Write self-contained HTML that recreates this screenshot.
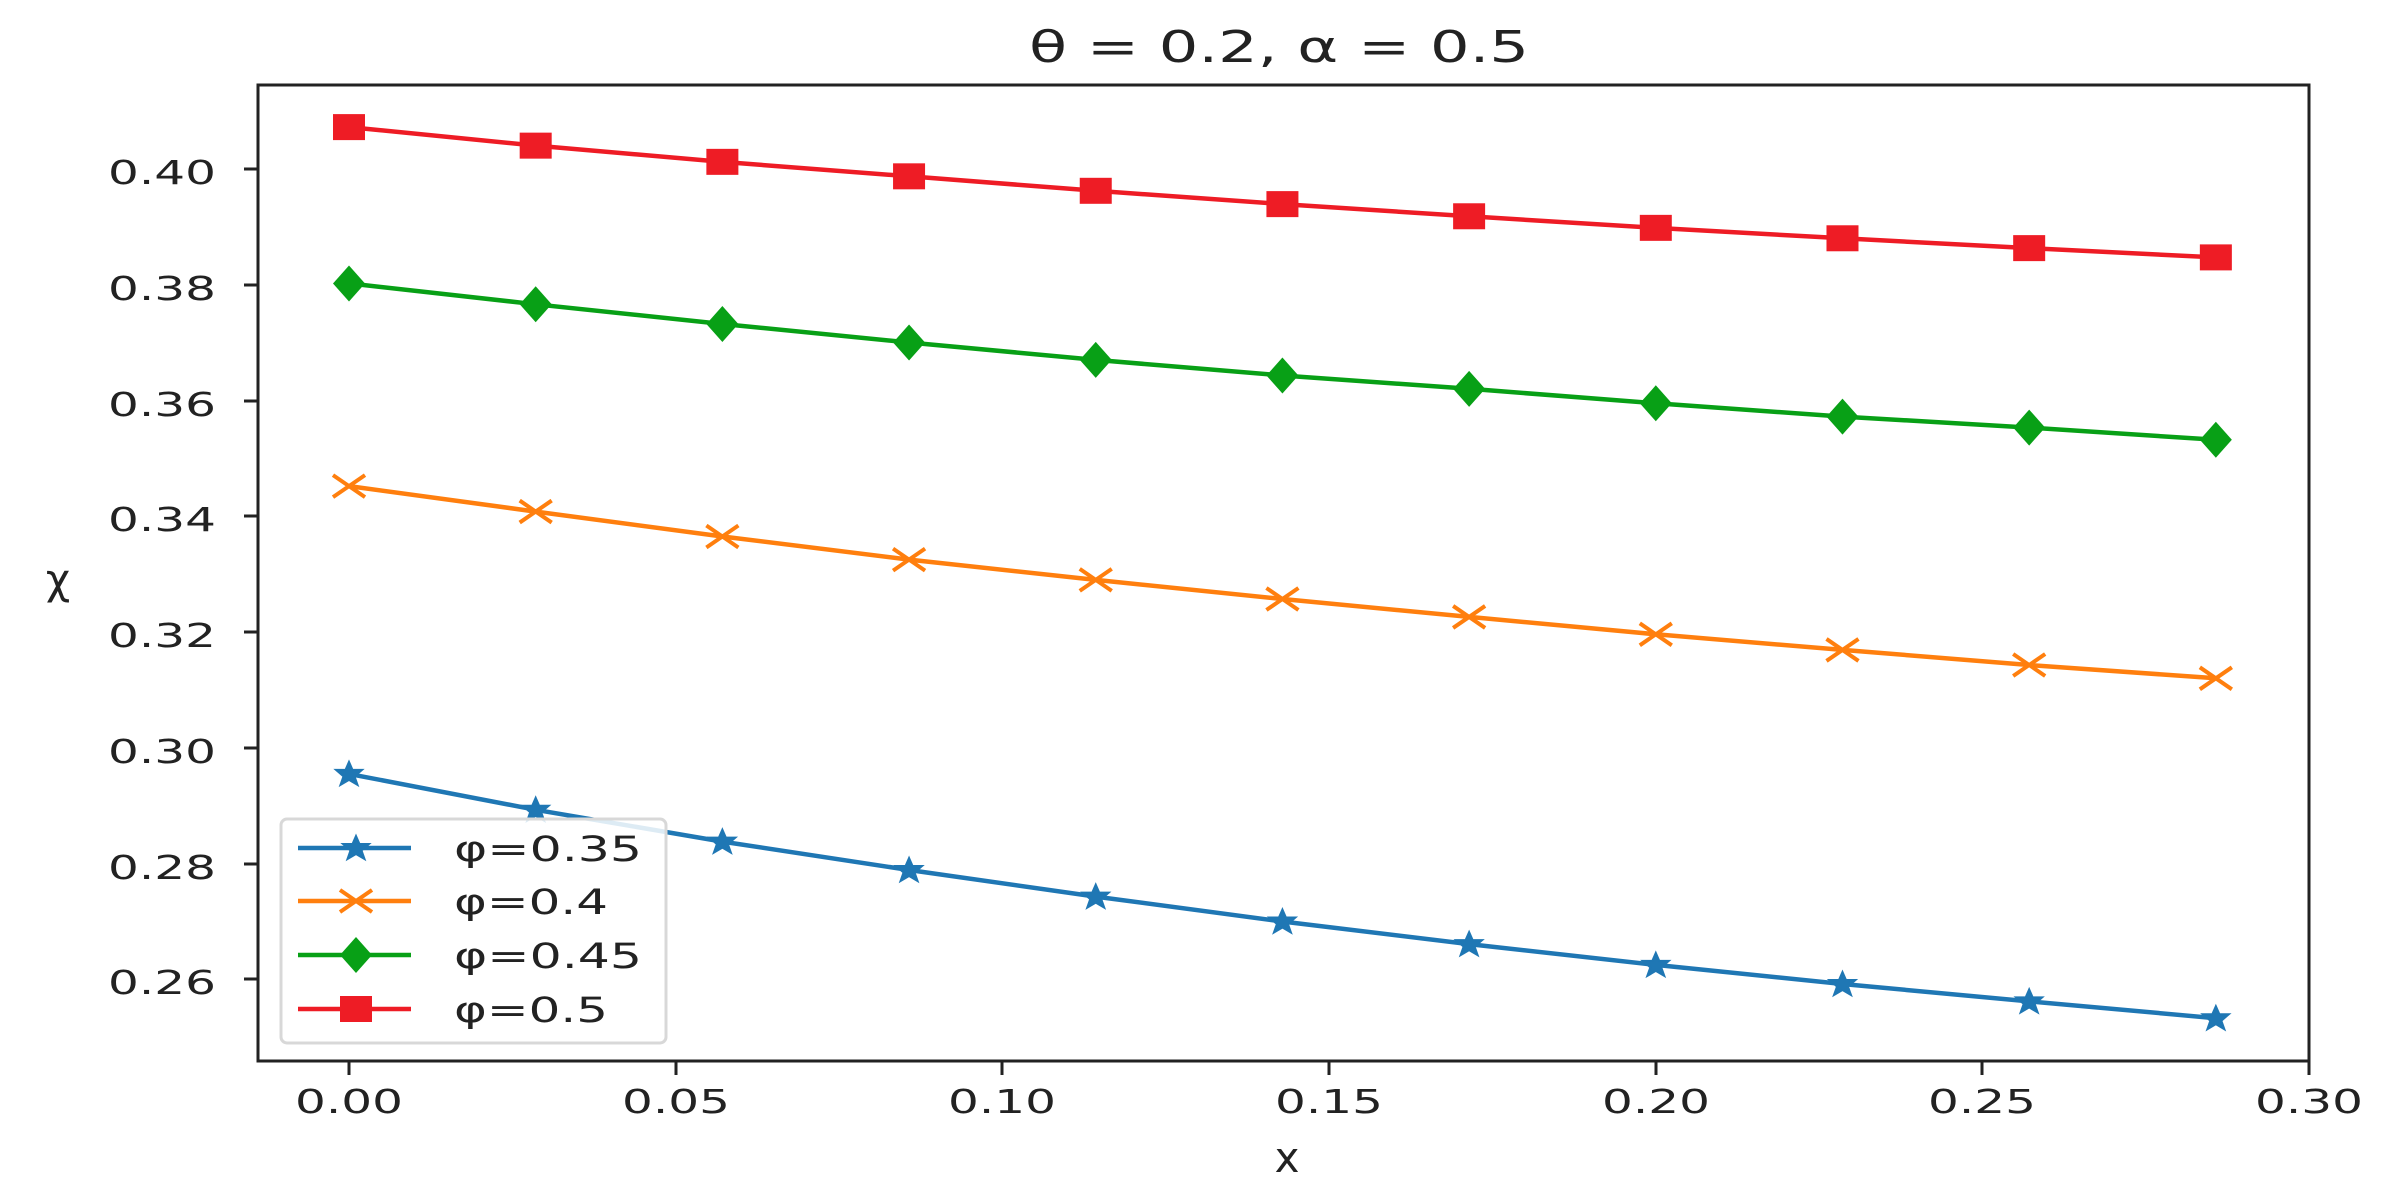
<!DOCTYPE html>
<html><head><meta charset="utf-8"><style>html,body{margin:0;padding:0;background:#fff;}svg{display:block}</style></head>
<body>
<svg width="2383" height="1187" viewBox="0 0 2383 1187" xmlns="http://www.w3.org/2000/svg" font-family="DejaVu Sans, Liberation Sans, sans-serif" fill="#222">
<defs>
<g id="sq"><rect x="-16" y="-13" width="32" height="26" fill="#ee1c25"/></g>
<g id="di"><polygon points="0,-18 16,0 0,18 -16,0" fill="#08a016"/></g>
<g id="xx"><path d="M-16,-11 L16,11 M-16,11 L16,-11" stroke="#ff7f0e" stroke-width="4" fill="none"/></g>
<g id="st"><polygon points="0,-12 3.5,-4 13,-4 5.5,2.5 8.5,11 0,6 -8.5,11 -5.5,2.5 -13,-4 -3.5,-4" fill="#1f77b4" stroke="#1f77b4" stroke-width="2"/></g>
</defs>
<text x="1279" y="62" font-size="44" text-anchor="middle" textLength="500" lengthAdjust="spacingAndGlyphs">θ = 0.2, α = 0.5</text>
<rect x="258" y="85" width="2051" height="976" fill="none" stroke="#222" stroke-width="3"/>
<g id="plot"></g>
<g stroke="#222" stroke-width="3">
<line x1="258" y1="169" x2="244" y2="169"/><line x1="258" y1="285" x2="244" y2="285"/><line x1="258" y1="401" x2="244" y2="401"/><line x1="258" y1="516" x2="244" y2="516"/><line x1="258" y1="632" x2="244" y2="632"/><line x1="258" y1="748" x2="244" y2="748"/><line x1="258" y1="864" x2="244" y2="864"/><line x1="258" y1="979" x2="244" y2="979"/>
<line x1="349" y1="1061" x2="349" y2="1075"/><line x1="676" y1="1061" x2="676" y2="1075"/><line x1="1002" y1="1061" x2="1002" y2="1075"/><line x1="1329" y1="1061" x2="1329" y2="1075"/><line x1="1656" y1="1061" x2="1656" y2="1075"/><line x1="1982" y1="1061" x2="1982" y2="1075"/><line x1="2309" y1="1061" x2="2309" y2="1075"/>
</g>
<g font-size="33" text-anchor="end">
<text x="216" y="184" textLength="108" lengthAdjust="spacingAndGlyphs">0.40</text>
<text x="216" y="300" textLength="108" lengthAdjust="spacingAndGlyphs">0.38</text>
<text x="216" y="416" textLength="108" lengthAdjust="spacingAndGlyphs">0.36</text>
<text x="216" y="531" textLength="108" lengthAdjust="spacingAndGlyphs">0.34</text>
<text x="216" y="647" textLength="108" lengthAdjust="spacingAndGlyphs">0.32</text>
<text x="216" y="763" textLength="108" lengthAdjust="spacingAndGlyphs">0.30</text>
<text x="216" y="879" textLength="108" lengthAdjust="spacingAndGlyphs">0.28</text>
<text x="216" y="994" textLength="108" lengthAdjust="spacingAndGlyphs">0.26</text>
</g>
<g font-size="33" text-anchor="middle">
<text x="349" y="1113" textLength="108" lengthAdjust="spacingAndGlyphs">0.00</text>
<text x="676" y="1113" textLength="108" lengthAdjust="spacingAndGlyphs">0.05</text>
<text x="1002" y="1113" textLength="108" lengthAdjust="spacingAndGlyphs">0.10</text>
<text x="1329" y="1113" textLength="108" lengthAdjust="spacingAndGlyphs">0.15</text>
<text x="1656" y="1113" textLength="108" lengthAdjust="spacingAndGlyphs">0.20</text>
<text x="1982" y="1113" textLength="108" lengthAdjust="spacingAndGlyphs">0.25</text>
<text x="2309" y="1113" textLength="108" lengthAdjust="spacingAndGlyphs">0.30</text>
</g>
<text x="1287" y="1172" font-size="42" text-anchor="middle">x</text>
<text x="58" y="594" font-size="42" text-anchor="middle">χ</text>
<script>
(function(){
var ns="http://www.w3.org/2000/svg",g=document.getElementById("plot");
function X(v){return 349+v/0.05*326.7;}
function Y(v){return 168.8+(0.40-v)/0.02*115.8;}
var S=[["#ee1c25","sq",[.4072,.4040,.4012,.3987,.3962,.3939,.3918,.3898,.3880,.3863,.3847]],
["#08a016","di",[.3802,.3766,.3732,.3700,.3670,.3643,.3620,.3595,.3572,.3553,.3532]],
["#ff7f0e","xx",[.3452,.3408,.3365,.3325,.3290,.3257,.3226,.3196,.3169,.3143,.3120]],
["#1f77b4","st",[.2955,.2893,.2838,.2789,.2743,.2700,.2661,.2625,.2592,.2562,.2533]]];
S.forEach(function(s){
 var p=[];s[2].forEach(function(v,i){p.push(X(i*2/70).toFixed(1)+","+Y(v).toFixed(1));});
 var l=document.createElementNS(ns,"polyline");l.setAttribute("points",p.join(" "));l.setAttribute("fill","none");l.setAttribute("stroke",s[0]);l.setAttribute("stroke-width","4.5");g.appendChild(l);
 s[2].forEach(function(v,i){var u=document.createElementNS(ns,"use");u.setAttribute("href","#"+s[1]);u.setAttribute("x",X(i*2/70));u.setAttribute("y",Y(v));g.appendChild(u);});
});
})();
</script>
<rect x="281" y="819" width="385" height="224" rx="6" fill="#fff" fill-opacity="0.85" stroke="#d8d8d8" stroke-width="3"/>
<line x1="298" y1="848" x2="411" y2="848" stroke="#1f77b4" stroke-width="4.5"/><use href="#st" x="356" y="848"/>
<line x1="298" y1="901" x2="411" y2="901" stroke="#ff7f0e" stroke-width="4.5"/><use href="#xx" x="356" y="901"/>
<line x1="298" y1="955" x2="411" y2="955" stroke="#08a016" stroke-width="4.5"/><use href="#di" x="356" y="955"/>
<line x1="298" y1="1009" x2="411" y2="1009" stroke="#ee1c25" stroke-width="4.5"/><use href="#sq" x="356" y="1009"/>
<g font-size="35">
<text x="454" y="861" textLength="188" lengthAdjust="spacingAndGlyphs">φ=0.35</text>
<text x="454" y="914" textLength="154" lengthAdjust="spacingAndGlyphs">φ=0.4</text>
<text x="454" y="968" textLength="188" lengthAdjust="spacingAndGlyphs">φ=0.45</text>
<text x="454" y="1022" textLength="154" lengthAdjust="spacingAndGlyphs">φ=0.5</text>
</g>
</svg>
</body></html>
